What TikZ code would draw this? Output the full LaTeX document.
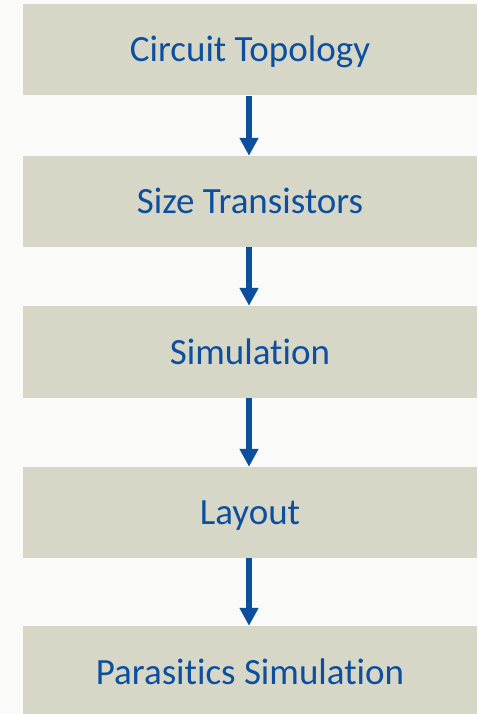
\documentclass[tikz,border=0pt]{standalone}
\usepackage{fontspec}
\setmainfont[Ligatures=NoCommon]{Carlito}
\usetikzlibrary{arrows.meta}
\definecolor{bg}{HTML}{FAFAF8}
\definecolor{boxfill}{HTML}{D7D7C8}
\definecolor{txtblue}{HTML}{0D4F9E}
\definecolor{arrblue}{HTML}{0B4F9D}
\tikzset{
  stepbox/.style={rectangle, fill=boxfill, draw=none, minimum width=454pt, inner sep=0pt,
    text height=24pt, text depth=0pt,
    text=txtblue, font=\fontsize{37}{44}\selectfont},
  flowarrow/.style={draw=arrblue, line width=6pt, -{Triangle[width=18pt,length=18pt]}}
}
\begin{document}
\begin{tikzpicture}[x=1pt,y=-1pt]
\fill[bg] (0,0) rectangle (477,714);
\useasboundingbox (0,0) rectangle (477,714);
\node[stepbox, minimum height=91pt] (b1) at (250,50) {Circuit Topology};
\node[stepbox, minimum height=91pt] (b2) at (250,201.5) {Size Transistors};
\node[stepbox, minimum height=92pt] (b3) at (250,352) {Simulation};
\node[stepbox, minimum height=91pt] (b4) at (250,512.5) {Layout};
\node[stepbox, minimum height=92pt] (b5) at (250,672) {Parasitics Simulation};
\draw[flowarrow] (b1.south -| 249,0) -- (b2.north -| 249,0);
\draw[flowarrow] (b2.south -| 249,0) -- (b3.north -| 249,0);
\draw[flowarrow] (b3.south -| 249,0) -- (b4.north -| 249,0);
\draw[flowarrow] (b4.south -| 249,0) -- (b5.north -| 249,0);
\end{tikzpicture}
\end{document}
